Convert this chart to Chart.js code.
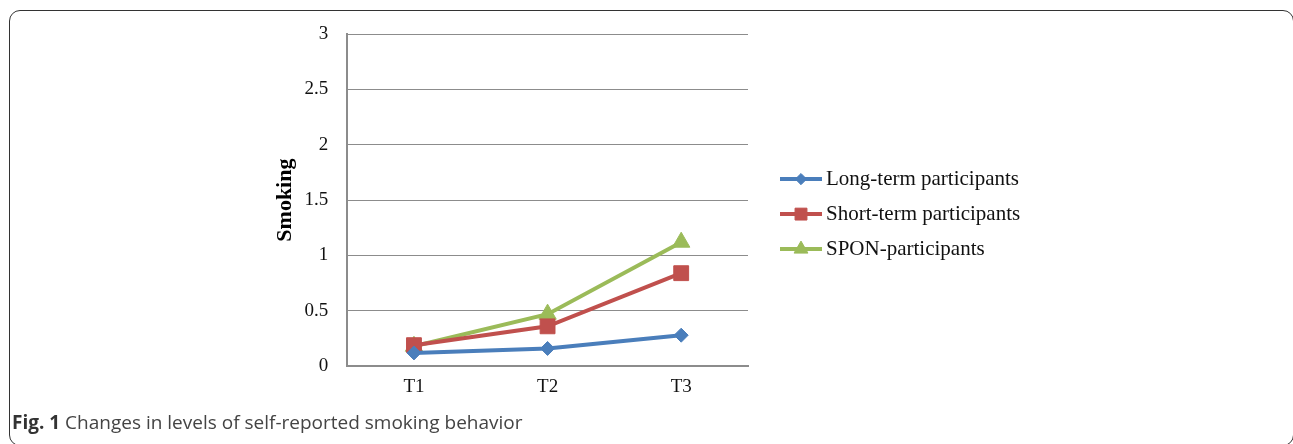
<!DOCTYPE html>
<html>
<head>
<meta charset="utf-8">
<script src="https://cdn.jsdelivr.net/npm/chart.js@4/dist/chart.umd.min.js"></script>
<style>
  html, body { margin: 0; padding: 0; background: #fff; }
  body { width: 1293px; height: 444px; position: relative; overflow: hidden; }
  #frame {
    position: absolute; left: 9px; top: 10px; width: 1283px; height: 434px;
    border: 1.5px solid #333; border-radius: 11px;
  }
  #wrap { position: absolute; left: 0; top: 0; width: 1293px; height: 410px; }
  #caption {
    position: absolute; left: 12px; top: 413px; line-height: 19px;
    font-family: 'Open Sans', sans-serif; font-size: 19px; color: #444;
    white-space: nowrap;
  }
  #caption b { color: #333; font-weight: 700; }
</style>
</head>
<body>
<div id="frame"></div>
<div id="wrap"><canvas id="g_smoke"></canvas></div>
<div id="caption"><b>Fig. 1</b> Changes in levels of self-reported smoking behavior</div>
<script>
Chart.defaults.font.family = "'Liberation Serif', serif";
Chart.defaults.color = '#111';

// donnees
const categories = ['T1', 'T2', 'T3'];
const seriesNames = ['Long-term participants', 'Short-term participants', 'SPON-participants'];
const longTerm = [0.12, 0.16, 0.28];
const shortTerm = [0.19, 0.36, 0.84];
const spon = [0.18, 0.47, 1.12];
const yTicks = [0, 0.5, 1, 1.5, 2, 2.5, 3];

const colors = ['#4a7ebb', '#c0504d', '#9bbb59'];
const markers = ['rectRot', 'rect', 'triangle'];
const markerSize = [7, 10.5, 10];

// legende dessinee a la main : trait + marqueur + texte
const legendLines = {
  id: 'legendLines',
  afterDraw(chart) {
    const ctx = chart.ctx;
    const area = chart.chartArea;
    const x0 = area.right + 32;
    const yMid = (area.top + area.bottom) / 2 + 14;
    chart.data.datasets.forEach((ds, i) => {
      const y = yMid + (i - 1) * 35;
      ctx.save();
      ctx.strokeStyle = colors[i];
      ctx.lineWidth = 4;
      ctx.beginPath();
      ctx.moveTo(x0, y);
      ctx.lineTo(x0 + 42, y);
      ctx.stroke();
      ctx.fillStyle = colors[i];
      ctx.lineWidth = 1;
      Chart.helpers.drawPoint(ctx, {
        pointStyle: markers[i],
        radius: markerSize[i] * 0.8,
        borderWidth: 1
      }, x0 + 21, y);
      ctx.fillStyle = '#111';
      ctx.font = "21px 'Liberation Serif', serif";
      ctx.textBaseline = 'middle';
      ctx.fillText(ds.label, x0 + 46, y);
      ctx.restore();
    });
  }
};

const allSeries = [longTerm, shortTerm, spon];
const datasets = allSeries.map((vals, i) => ({
  label: seriesNames[i],
  data: vals,
  borderColor: colors[i],
  backgroundColor: colors[i],
  borderWidth: 4,
  pointStyle: markers[i],
  pointRadius: markerSize[i],
  pointBorderWidth: 1,
  pointBackgroundColor: colors[i],
  pointBorderColor: colors[i],
  tension: 0
}));

let context = document.getElementById('g_smoke').getContext('2d');
let config = {
  type: 'line',
  data: { labels: categories, datasets: datasets },
  options: {
    responsive: true,
    maintainAspectRatio: false,
    animation: false,
    layout: { padding: { left: 268, top: 34, right: 545, bottom: 3 } },
    plugins: {
      tooltip: { enabled: false },
      legend: { display: false }
    },
    scales: {
      x: {
        type: 'category',
        offset: true,
        grid: { display: false, drawTicks: false },
        border: { display: true, color: '#8c8c8c', width: 2 },
        ticks: { font: { size: 19 }, padding: 9, color: '#111' }
      },
      y: {
        min: 0,
        max: 3,
        afterBuildTicks(axis) {
          axis.ticks = yTicks.map(v => ({ value: v }));
        },
        // le padding des ticks est compte deux fois par Chart.js
        afterFit(axis) {
          axis.width -= axis.options.ticks.padding;
        },
        grid: { color: '#8c8c8c', lineWidth: 1, drawTicks: false },
        border: { display: true, color: '#8c8c8c', width: 2 },
        ticks: {
          font: { size: 19 },
          padding: 19,
          color: '#111',
          callback: v => String(v)
        },
        title: {
          display: true,
          text: 'Smoking',
          font: { size: 22, weight: 'bold' },
          color: '#000',
          padding: { top: 4, bottom: 6 }
        }
      }
    }
  },
  plugins: [legendLines]
};
let gSmoke = new Chart(context, config);
</script>
</body>
</html>
